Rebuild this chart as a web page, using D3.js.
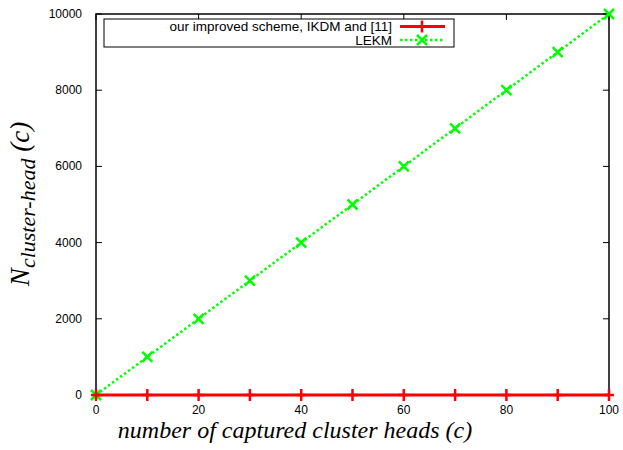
<!DOCTYPE html>
<html lang="en">
<head>
  <meta charset="UTF-8">
  <title>Captured cluster heads</title>
  <style>
    body { margin: 0; background: #fff; }
    svg text { font-family: "Liberation Sans", Arial, sans-serif; }
  </style>
  <script src="https://d3js.org/d3.v7.min.js"></script>
</head>
<body>
<div id="chart"></div>
<script>
  // Data
  var captured = [0, 10, 20, 30, 40, 50, 60, 70, 80, 90, 100];
  var improved = [0, 0, 0, 0, 0, 0, 0, 0, 0, 0, 0];
  var lekm = [0, 1000, 2000, 3000, 4000, 5000, 6000, 7000, 8000, 9000, 10000];
  var xTicks = [0, 20, 40, 60, 80, 100];
  var yTicks = [0, 2000, 4000, 6000, 8000, 10000];
  var seriesNames = ["our improved scheme, IKDM and [11]", "LEKM"];

  var width = 623, height = 450;
  var m = { left: 96, right: 609, top: 14, bottom: 395 };

  var svg = d3.select("#chart").append("svg")
      .attr("width", width)
      .attr("height", height);

  var x = d3.scaleLinear().domain([0, 100]).range([m.left, m.right]);
  var y = d3.scaleLinear().domain([0, 10000]).range([m.bottom, m.top]);

  // ticks, inward on all four sides
  var g = svg.append("g").attr("stroke", "#000").attr("stroke-width", 1);
  xTicks.forEach(function(t) {
    g.append("line").attr("x1", x(t)).attr("x2", x(t)).attr("y1", m.bottom).attr("y2", m.bottom - 6);
    g.append("line").attr("x1", x(t)).attr("x2", x(t)).attr("y1", m.top).attr("y2", m.top + 6);
  });
  yTicks.forEach(function(t) {
    g.append("line").attr("x1", m.left).attr("x2", m.left + 6).attr("y1", y(t)).attr("y2", y(t));
    g.append("line").attr("x1", m.right).attr("x2", m.right - 6).attr("y1", y(t)).attr("y2", y(t));
  });

  svg.selectAll(".xl").data(xTicks).enter().append("text")
      .attr("x", function(d) { return x(d); })
      .attr("y", m.bottom + 19)
      .attr("text-anchor", "middle")
      .attr("font-size", 12)
      .text(function(d) { return d; });
  svg.selectAll(".yl").data(yTicks).enter().append("text")
      .attr("x", m.left - 14)
      .attr("y", function(d) { return y(d) + 4; })
      .attr("text-anchor", "end")
      .attr("font-size", 12)
      .text(function(d) { return d; });

  // frame
  svg.append("rect")
      .attr("x", m.left).attr("y", m.top)
      .attr("width", m.right - m.left).attr("height", m.bottom - m.top)
      .attr("fill", "none").attr("stroke", "#000").attr("stroke-width", 1.5);

  // axis titles
  svg.append("text")
      .attr("x", 295)
      .attr("y", 438)
      .attr("text-anchor", "middle")
      .style("font-family", "'Liberation Serif', serif")
      .attr("font-style", "italic")
      .attr("font-size", 24)
      .text("number of captured cluster heads (c)");

  var yt = svg.append("text")
      .attr("transform", "translate(29,204) rotate(-90)")
      .attr("text-anchor", "middle")
      .style("font-family", "'Liberation Serif', serif")
      .attr("font-style", "italic")
      .attr("font-size", 27);
  yt.append("tspan").text("N");
  yt.append("tspan").attr("font-size", 22).attr("dy", 6).text("cluster-head");
  yt.append("tspan").attr("dy", -6).text(" (c)");

  var line = d3.line()
      .x(function(d, i) { return x(captured[i]); })
      .y(function(d) { return y(d); });

  // LEKM series: dotted green with x markers
  svg.append("path").datum(lekm)
      .attr("d", line)
      .attr("fill", "none")
      .attr("stroke", "#00ff00")
      .attr("stroke-width", 2.5)
      .attr("stroke-dasharray", "2.5,2.5");
  function cross(sel, cx, cy) {
    sel.append("path")
        .attr("d", "M" + (cx - 5) + "," + (cy - 5) + "L" + (cx + 5) + "," + (cy + 5) +
                   "M" + (cx - 5) + "," + (cy + 5) + "L" + (cx + 5) + "," + (cy - 5))
        .attr("stroke", "#00ff00").attr("stroke-width", 2.5);
  }
  lekm.forEach(function(v, i) { cross(svg, x(captured[i]), y(v)); });

  // improved scheme: solid red with + markers
  svg.append("path").datum(improved)
      .attr("d", line)
      .attr("fill", "none")
      .attr("stroke", "#ff0000")
      .attr("stroke-width", 3);
  function plus(sel, cx, cy) {
    sel.append("path")
        .attr("d", "M" + (cx - 5) + "," + cy + "L" + (cx + 5) + "," + cy +
                   "M" + cx + "," + (cy - 6) + "L" + cx + "," + (cy + 6))
        .attr("stroke", "#ff0000").attr("stroke-width", 2.5);
  }
  improved.forEach(function(v, i) { plus(svg, x(captured[i]), y(v)); });

  // legend
  var lg = svg.append("g");
  lg.append("rect")
      .attr("x", 104).attr("y", 19).attr("width", 350).attr("height", 28)
      .attr("fill", "#fff").attr("stroke", "#000").attr("stroke-width", 1);
  var rows = [26.5, 40];
  seriesNames.forEach(function(name, i) {
    lg.append("text")
        .attr("x", 392).attr("y", rows[i] + 4.5)
        .attr("text-anchor", "end")
        .attr("font-size", 13.5)
        .text(name);
  });
  lg.append("line").attr("x1", 400).attr("x2", 445).attr("y1", rows[0]).attr("y2", rows[0])
      .attr("stroke", "#ff0000").attr("stroke-width", 3);
  plus(lg, 422, rows[0]);
  lg.append("line").attr("x1", 400).attr("x2", 445).attr("y1", rows[1]).attr("y2", rows[1])
      .attr("stroke", "#00ff00").attr("stroke-width", 2.5).attr("stroke-dasharray", "2.5,2.5");
  cross(lg, 422, rows[1]);
</script>
</body>
</html>
